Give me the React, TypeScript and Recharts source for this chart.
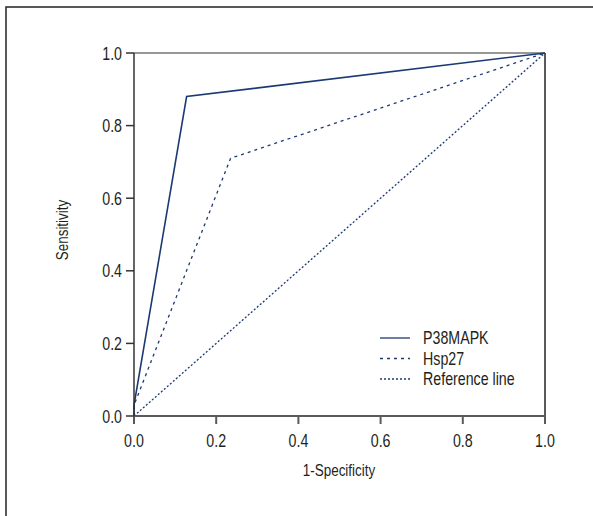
import { LineChart, Line, XAxis, YAxis, ReferenceLine } from 'recharts';

// ROC points
const p38Fpr = [0, 0, 0.128, 1];
const p38Tpr = [0, 0.03, 0.88, 1];
const hspFpr = [0, 0, 0.235, 1];
const hspTpr = [0, 0.03, 0.71, 1];
const refFpr = [0, 1];
const refTpr = [0, 1];
const axisTicks = [0, 0.2, 0.4, 0.6, 0.8, 1];
const seriesNames = ['P38MAPK', 'Hsp27', 'Reference line'];
const seriesDash = [undefined, '3 4', '2 2'];

const toPoints = (xs: number[], ys: number[]) => xs.map((x, i) => ({ x, y: ys[i] }));

const NAVY = '#1b3a73';
const INK = '#231f20';
const FONT = '"Liberation Sans", Arial, sans-serif';
const SQUEEZE = 0.79;

// condensed look: normal sans squeezed horizontally
function XTick({ x, y, payload }: any) {
  return (
    <g transform={`translate(${x},${y + 21})`}>
      <text transform={`scale(${SQUEEZE},1)`} textAnchor="middle" fontSize={18} fill={INK} fontFamily={FONT}>
        {Number(payload.value).toFixed(1)}
      </text>
    </g>
  );
}

function YTick({ x, y, payload }: any) {
  return (
    <g transform={`translate(${x - 2},${y + 6.5})`}>
      <text transform={`scale(${SQUEEZE},1)`} textAnchor="end" fontSize={18} fill={INK} fontFamily={FONT}>
        {Number(payload.value).toFixed(1)}
      </text>
    </g>
  );
}

export default function App() {
  return (
    <div style={{ position: 'fixed', left: 0, top: 0, width: 593, height: 516, overflow: 'hidden', background: '#fff' }}>
      <div style={{ position: 'absolute', left: 0, top: 0 }}>
        <LineChart width={593} height={516} margin={{ top: 53, right: 48, left: 74, bottom: 50 }}>
          <XAxis
            type="number"
            dataKey="x"
            domain={[0, 1]}
            ticks={axisTicks}
            stroke="#5a5a5a"
            strokeWidth={2}
            tickSize={8}
            tick={<XTick />}
            height={50}
            allowDuplicatedCategory={false}
          />
          <YAxis
            type="number"
            dataKey="y"
            domain={[0, 1]}
            ticks={axisTicks}
            stroke="#333"
            strokeWidth={1.5}
            tickSize={8}
            tick={<YTick />}
            width={60}
          />
          <ReferenceLine y={1} stroke="#333" strokeWidth={1.2} />
          <ReferenceLine x={1} stroke="#5a5a5a" strokeWidth={2} />
          <Line
            data={toPoints(refFpr, refTpr)}
            dataKey="y"
            name={seriesNames[2]}
            stroke={NAVY}
            strokeWidth={1.3}
            strokeDasharray={seriesDash[2]}
            dot={false}
            type="linear"
            isAnimationActive={false}
          />
          <Line
            data={toPoints(hspFpr, hspTpr)}
            dataKey="y"
            name={seriesNames[1]}
            stroke={NAVY}
            strokeWidth={1.3}
            strokeDasharray={seriesDash[1]}
            dot={false}
            type="linear"
            isAnimationActive={false}
          />
          <Line
            data={toPoints(p38Fpr, p38Tpr)}
            dataKey="y"
            name={seriesNames[0]}
            stroke={NAVY}
            strokeWidth={1.6}
            dot={false}
            type="linear"
            isAnimationActive={false}
          />
        </LineChart>
      </div>
      {/* frame, axis titles and legend */}
      <svg width={593} height={516} style={{ position: 'absolute', left: 0, top: 0, pointerEvents: 'none' }}>
        <path d="M6,516 V7 H593" fill="none" stroke="#222" strokeWidth={1.5} />
        <g transform="translate(339,476)">
          <text transform={`scale(${SQUEEZE},1)`} textAnchor="middle" fontSize={17} fill={INK} fontFamily={FONT}>
            1-Specificity
          </text>
        </g>
        <g transform="translate(68,230) rotate(-90)">
          <text transform={`scale(${SQUEEZE},1)`} textAnchor="middle" fontSize={17} fill={INK} fontFamily={FONT}>
            Sensitivity
          </text>
        </g>
        {seriesNames.map((name, i) => (
          <g key={name} transform={`translate(0,${i * 20.5})`}>
            <line x1={380} y1={338} x2={410} y2={338} stroke={NAVY} strokeWidth={1.3} strokeDasharray={seriesDash[i]} />
            <g transform="translate(423,344)">
              <text transform={`scale(${SQUEEZE},1)`} fontSize={18} fill={INK} fontFamily={FONT}>
                {name}
              </text>
            </g>
          </g>
        ))}
      </svg>
    </div>
  );
}
